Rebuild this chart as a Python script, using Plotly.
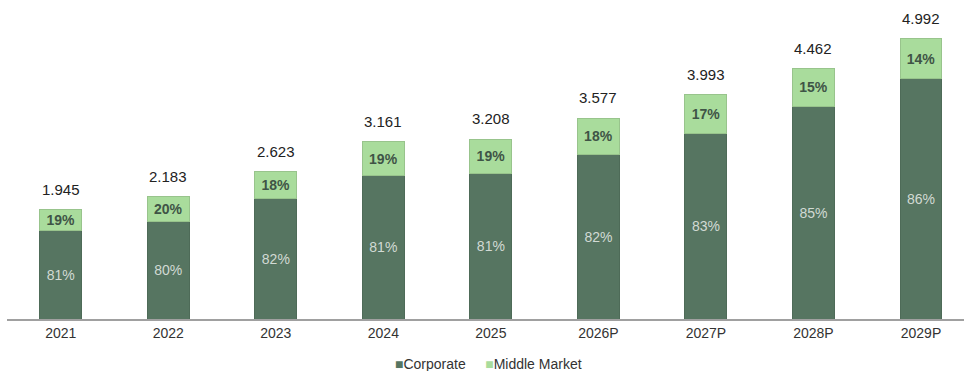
import plotly.graph_objects as go

years = ["2021", "2022", "2023", "2024", "2025", "2026P", "2027P", "2028P", "2029P"]
totals = [1.945, 2.183, 2.623, 3.161, 3.208, 3.577, 3.993, 4.462, 4.992]
corp_pct = [81, 80, 82, 81, 81, 82, 83, 85, 86]
mid_pct = [19, 20, 18, 19, 19, 18, 17, 15, 14]
total_labels = ["1.945", "2.183", "2.623", "3.161", "3.208", "3.577", "3.993", "4.462", "4.992"]

corp_vals = [t * c / 100 for t, c in zip(totals, corp_pct)]
mid_vals = [t - c for t, c in zip(totals, corp_vals)]

DARK = "#567561"
LIGHT = "#a9dc9c"
FONT = "Liberation Sans, Arial, sans-serif"

fig = go.Figure()
fig.add_trace(go.Bar(
    x=years, y=corp_vals, name="Corporate",
    marker=dict(color=DARK, line=dict(color="#4e6b58", width=1)),
    text=[f"{p}%" for p in corp_pct], textposition="inside",
    insidetextanchor="middle", textangle=0,
    textfont=dict(color="#d2dad4", size=14, family=FONT),
    width=0.39, hoverinfo="skip", showlegend=False,
))
fig.add_trace(go.Bar(
    x=years, y=mid_vals, name="Middle Market",
    marker=dict(color=LIGHT, line=dict(color="#98c48c", width=1)),
    text=[f"<b>{p}%</b>" for p in mid_pct], textposition="inside",
    insidetextanchor="middle", textangle=0,
    textfont=dict(color="#3f5446", size=14, family=FONT),
    width=0.39, hoverinfo="skip", showlegend=False,
))

for i, (t, lab) in enumerate(zip(totals, total_labels)):
    fig.add_annotation(x=i, y=t, xref="x", yref="y", text=lab, showarrow=False,
                       yanchor="bottom", yshift=10,
                       font=dict(size=15, color="#222222", family=FONT))

# legend drawn as text
fig.add_annotation(
    xref="paper", yref="paper", x=0.503, y=-0.142, xanchor="center", yanchor="middle",
    showarrow=False,
    text=(f"<span style='color:{DARK}'>■</span>Corporate&nbsp;&nbsp;&nbsp;&nbsp;&nbsp;"
          f"<span style='color:{LIGHT}'>■</span>Middle Market"),
    font=dict(size=14, color="#333333", family=FONT),
)

fig.update_layout(
    width=964, height=371,
    barmode="stack",
    plot_bgcolor="white", paper_bgcolor="white",
    margin=dict(l=7, r=0, t=0, b=52, autoexpand=False),
    font=dict(family=FONT, color="#333333"),
    showlegend=False,
    uniformtext=dict(mode="show", minsize=14),
    xaxis=dict(range=[-0.5, 8.4], showgrid=False, showline=True,
               linecolor="#a0a0a0", linewidth=1.5, ticks="",
               ticklabelstandoff=0, automargin=False,
               tickfont=dict(size=14, color="#333333"), fixedrange=True),
    yaxis=dict(range=[0, 5.686], visible=False, showgrid=False, zeroline=False),
)

fig.write_html("out.html")
